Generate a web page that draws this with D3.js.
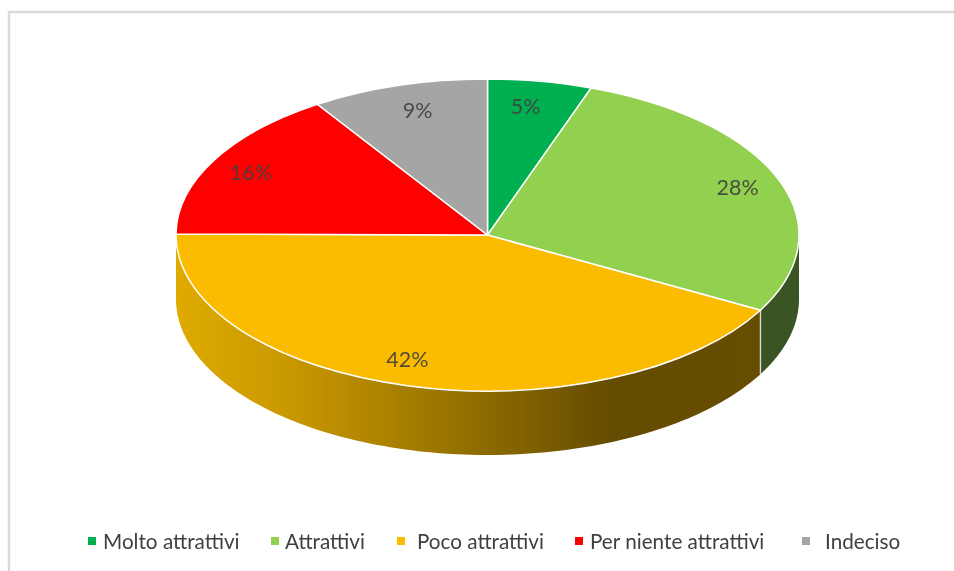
<!DOCTYPE html>
<html>
<head>
<meta charset="utf-8">
<style>html,body{margin:0;padding:0;background:#fff;overflow:hidden}svg{display:block;filter:blur(0.35px)}text{font-family:Lato,"Open Sans",sans-serif}</style>
<script src="https://cdn.jsdelivr.net/npm/d3@7/dist/d3.min.js"></script>
</head>
<body>
<svg id="c" width="954" height="571"></svg>
<script>
const categories = ["Molto attrattivi","Attrattivi","Poco attrattivi","Per niente attrattivi","Indeciso"];
const values = [5.4,27.6,42.1,15.7,9.2];
const colors = ["#00b050","#92d050","#fbbc00","#ff0000","#a5a5a5"];
const wallStops = [
  [[0,"#3a5423"],[1,"#3a5423"]],
  [[0,"#3a5423"],[1,"#3a5423"]],
  [[0,"#dfab00"],[0.2,"#c69600"],[0.5,"#8c6a00"],[0.7,"#644b00"],[1,"#684e00"]],
  [[0,"#800000"],[1,"#800000"]],
  [[0,"#555555"],[1,"#555555"]]
];
// layout
const cx=487.5, cy=235, rx=311.5, ry=156, depth=64;
const labelAngleDeg=[8.4,69,197.9,298,344.3], labelRadius=[.836,.86,.836,.86,.83];
const legendMarkX=[88,271,397,575,802], legendTextX=[103,285,417,590,825], legendY=541;

const svg=d3.select("#c");
// frame
svg.append("path").attr("d","M9 571V12H954").attr("fill","none").attr("stroke","#d9d9d9").attr("stroke-width",2.4);

const defs=svg.append("defs");
const arcs=d3.pie().sort(null).value(d=>d)(values);
const sx=d3.scaleLinear().domain([-1,1]).range([cx-rx,cx+rx]);
const sy=d3.scaleLinear().domain([-1,1]).range([cy-ry,cy+ry]);
const px=a=>sx(Math.sin(a)), py=a=>sy(-Math.cos(a));

// side walls: visible only for the front half of the ellipse
const wall=d3.area().x(d=>px(d)).y0(d=>py(d)).y1(d=>py(d)+depth);
arcs.forEach((a,i)=>{
  const s=Math.max(a.startAngle,Math.PI/2), e=Math.min(a.endAngle,3*Math.PI/2);
  if(e<=s) return;
  const id="w"+i;
  const g=defs.append("linearGradient").attr("id",id).attr("gradientUnits","userSpaceOnUse")
    .attr("x1",cx-rx).attr("x2",cx+rx).attr("y1",0).attr("y2",0);
  wallStops[i].forEach(t=>g.append("stop").attr("offset",t[0]).attr("stop-color",t[1]));
  const angles=d3.range(0,121).map(k=>s+(e-s)*k/120);
  svg.append("path").attr("d",wall(angles)).attr("fill",`url(#${id})`);
});
// wall seam between green and orange
const seam=arcs[1].endAngle;
svg.append("line").attr("x1",px(seam)).attr("x2",px(seam)).attr("y1",py(seam)).attr("y2",py(seam)+depth)
  .attr("stroke","#d8d8d0").attr("stroke-width",1.4);

// top face
const arc=d3.arc().innerRadius(0).outerRadius(1);
svg.append("g").attr("transform",`translate(${cx},${cy}) scale(${rx},${ry})`)
  .selectAll("path").data(arcs).join("path")
  .attr("d",arc).attr("fill",(d,i)=>colors[i])
  .attr("stroke","#fff").attr("stroke-width",1.5).attr("vector-effect","non-scaling-stroke");

// data labels
svg.append("g").selectAll("text").data(values).join("text")
  .attr("x",(d,i)=>cx+rx*labelRadius[i]*Math.sin(labelAngleDeg[i]*Math.PI/180))
  .attr("y",(d,i)=>cy-ry*labelRadius[i]*Math.cos(labelAngleDeg[i]*Math.PI/180))
  .attr("text-anchor","middle").attr("dominant-baseline","central")
  .attr("font-size",21.5).attr("fill","#404040").attr("fill-opacity",.9)
  .text(d=>Math.round(d)+"%");

// legend
const lg=svg.append("g");
lg.selectAll("rect").data(categories).join("rect")
  .attr("x",(d,i)=>legendMarkX[i]).attr("y",legendY-4).attr("width",8).attr("height",8)
  .attr("fill",(d,i)=>colors[i]);
lg.selectAll("text").data(categories).join("text")
  .attr("x",(d,i)=>legendTextX[i]).attr("y",legendY).attr("dominant-baseline","central")
  .attr("font-size",20.7).attr("fill","#404040").text(d=>d);
</script>
</body>
</html>
